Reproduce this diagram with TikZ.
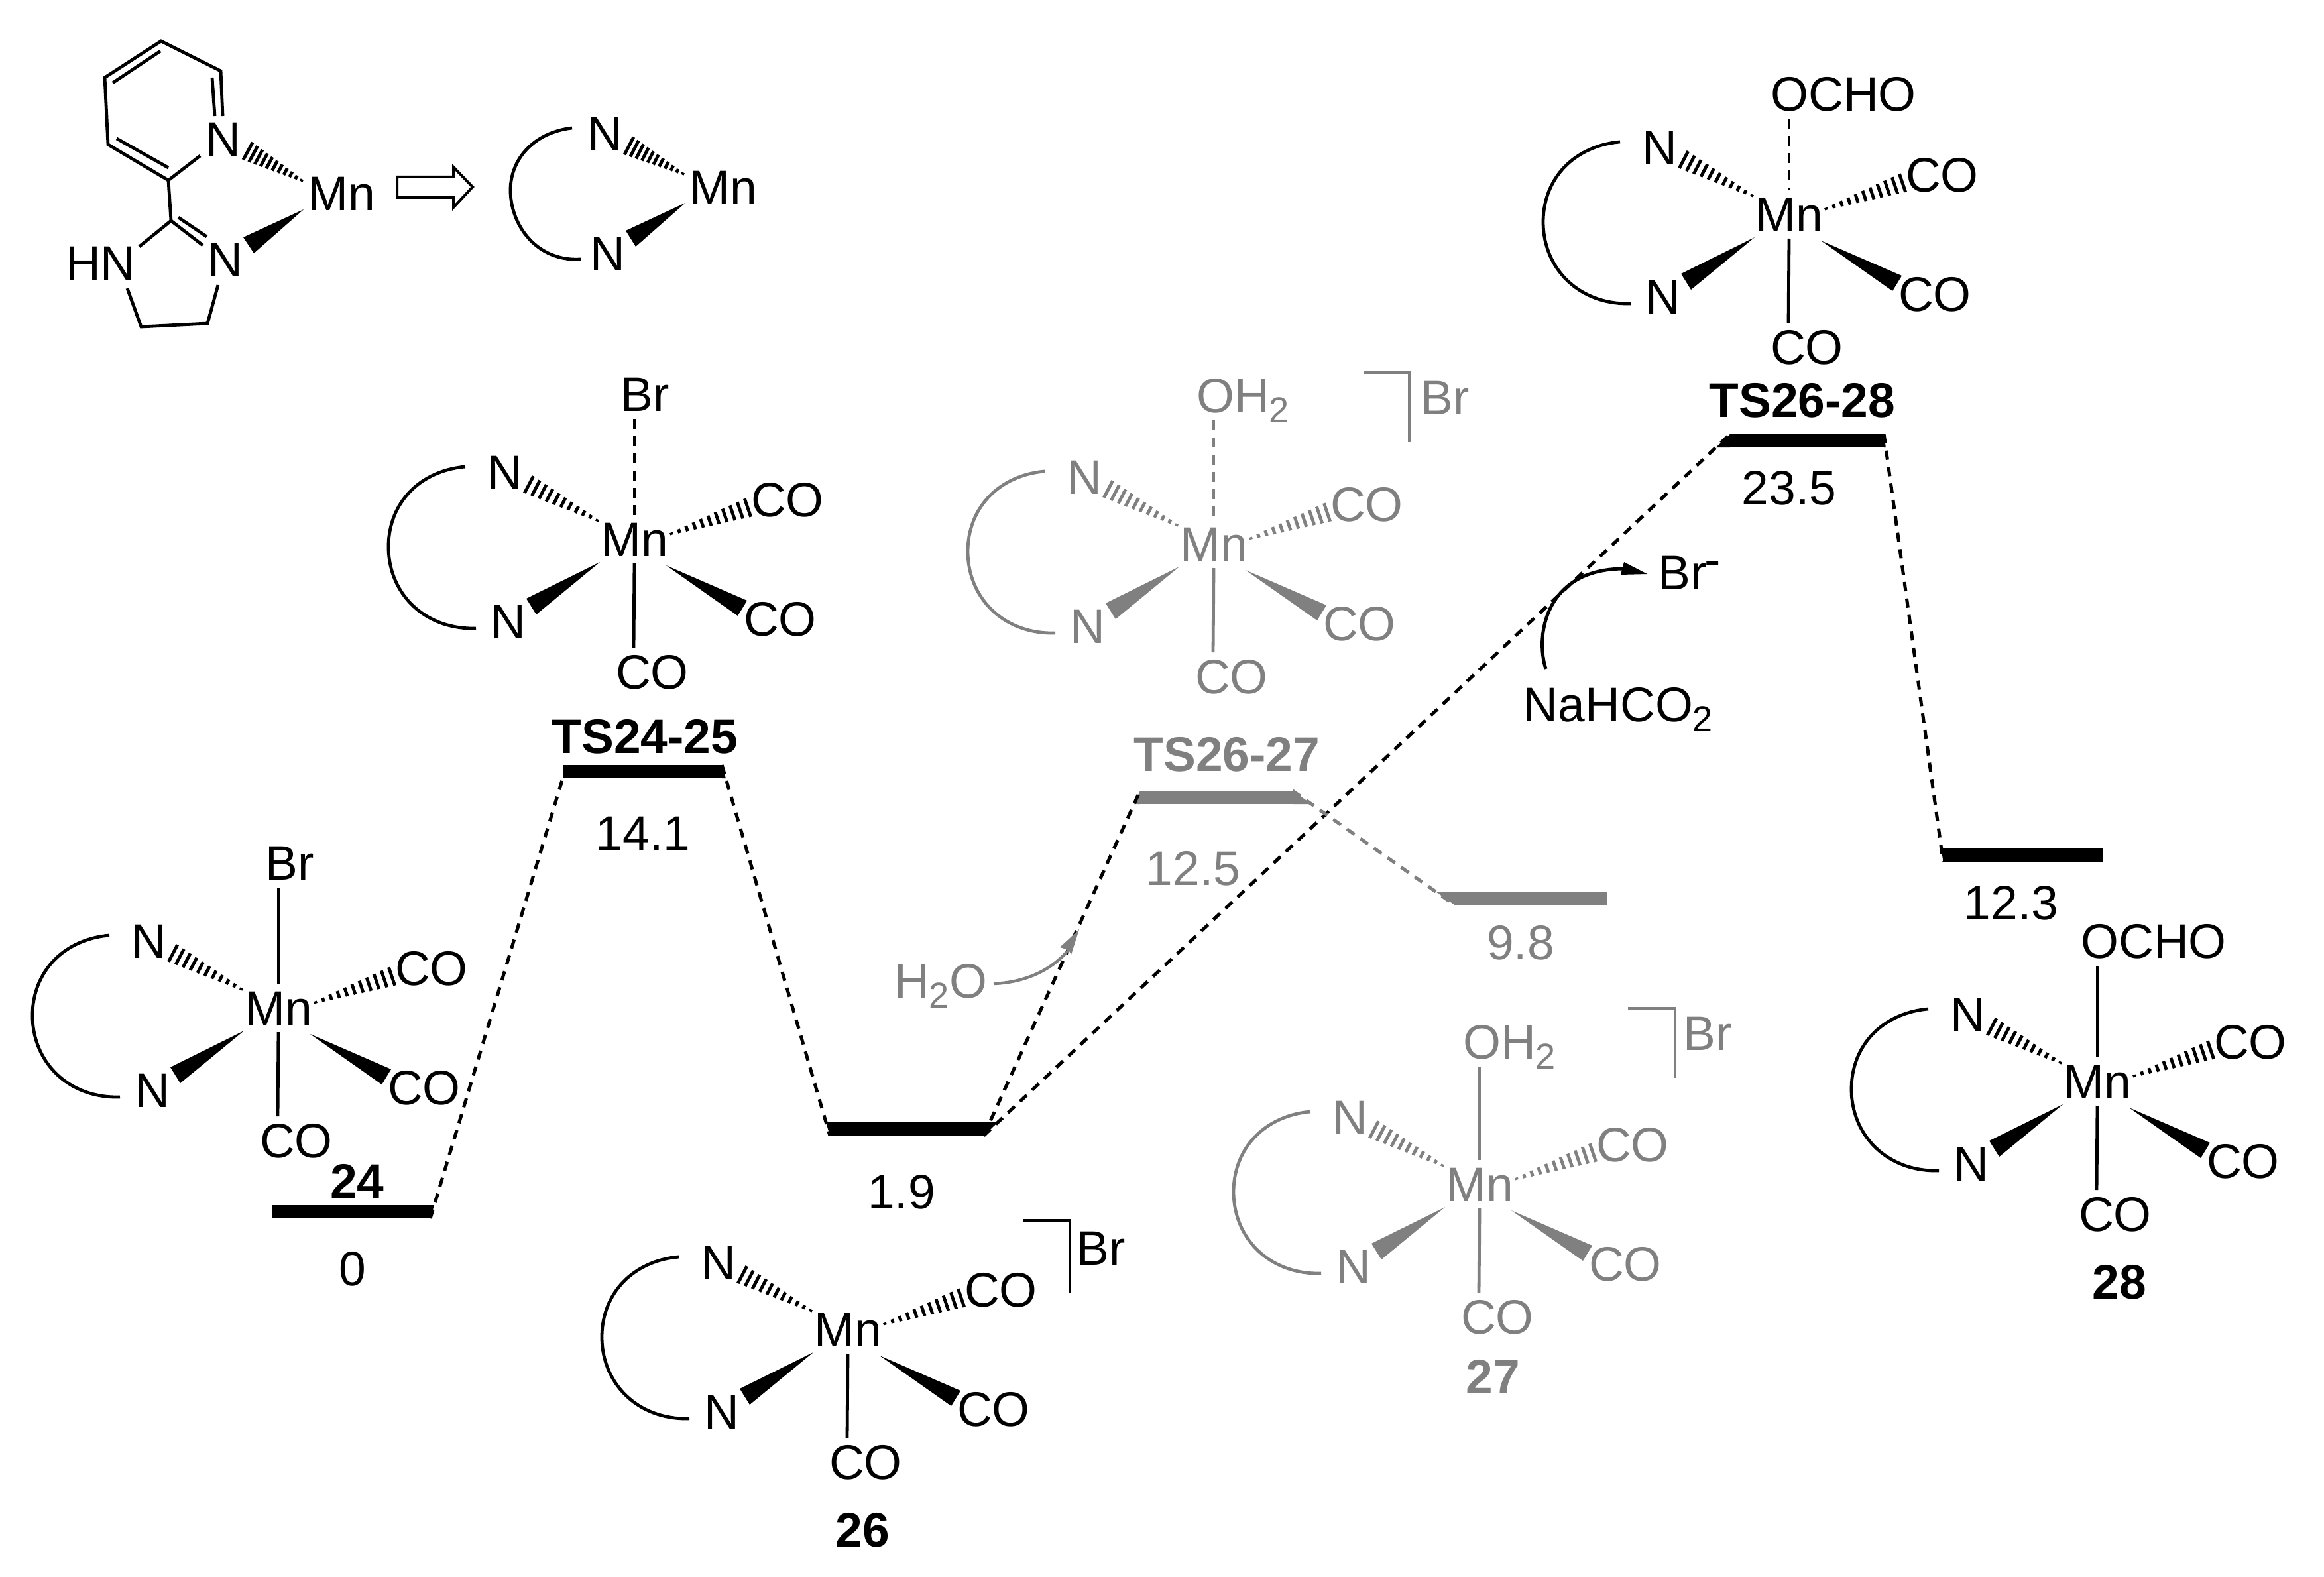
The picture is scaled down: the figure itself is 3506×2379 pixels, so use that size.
\documentclass[tikz,border=0pt]{standalone}
\usepackage{fontspec}
\setmainfont{Liberation Sans}
\usetikzlibrary{calc}
\definecolor{gr}{HTML}{808080}
\newcommand{\subt}[1]{\raisebox{-0.15cm}{\fontsize{15.4}{15.4}\selectfont #1}}
\tikzset{
 bond/.style={line width=0.048cm,line cap=butt},
 dbond/.style={dash pattern=on 0.15cm off 0.11cm},
 lb/.style={inner sep=0pt,outer sep=0pt,anchor=center,text height=0.51cm,text depth=0pt,font=\fontsize{20.8}{26}\selectfont},
 bl/.style={lb,font=\fontsize{20.8}{26}\selectfont\bfseries},
 bar/.style={rectangle,fill,draw=none,inner sep=0pt,outer sep=0pt,minimum height=0.2cm},
 conn/.style={line width=0.05cm,dash pattern=on 0.14cm off 0.11cm},
}
\newcommand{\hashb}[5]{%
 \pgfmathsetmacro{\hdx}{#3-#1}\pgfmathsetmacro{\hdy}{#4-#2}%
 \pgfmathsetmacro{\hln}{veclen(\hdx,\hdy)}%
 \foreach \hk in {0,...,10}{%
  \pgfmathsetmacro{\hp}{\hk/10}%
  \pgfmathsetmacro{\hh}{0.5*#5*(0.12+0.88*\hp)/\hln}%
  \pgfmathsetmacro{\hxx}{#1+\hp*\hdx}\pgfmathsetmacro{\hyy}{#2+\hp*\hdy}%
  \draw[bond] (\hxx-\hdy*\hh,\hyy+\hdx*\hh) -- (\hxx+\hdy*\hh,\hyy-\hdx*\hh);}}
\newcommand{\cbase}[1]{%
 \node[lb] (#1Mn) at (0,0) {Mn};
 \node[lb] (#1Na) at (-195,-101) {N};
 \node[lb] (#1Nb) at (-190,124) {N};
 \node[lb] (#1COa) at (231,-60) {CO};
 \node[lb] (#1COb) at (220,120) {CO};
 \node[lb] (#1COc) at (27,200) {CO};
 \hashb{-56}{-29}{-159}{-83}{29}
 \hashb{56}{-9}{171}{-48}{29}
 \fill (-52,34) -- (-163,89) -- (-148,113) -- cycle;
 \fill (48,39) -- (170,92) -- (156,115) -- cycle;
 \draw[bond] (0,36) -- (-1,163);
 \draw[bond] (-255,-110) .. controls (-323,-104) and (-371,-56) .. (-371,11)
   .. controls (-371,80) and (-318,136) .. (-239,134);
}
\newcommand{\ctop}[5]{% prefix, label, x offset, y offset, line style
 \node[lb] (#1top) at (#3,#4) {#2};
 \coordinate (#1ta) at (0,#4+37);
 \coordinate (#1tb) at (0,-37);
 \draw[bond,#5] (#1ta) -- (#1tb);
}
\newcommand{\linkcap}[4]{% colour, far, near, other far
 \fill[#1] let \p1=(#2),\p2=(#4),\p3=(#3) in (#2) -- (#3) -- ($(#2)!{scalar((\y3-\y1)/(\y2-\y1))}!(#4)$) -- cycle;}
\newcommand{\lnk}[7]{% line col, A cap col, B cap col, Afar, Anear, Bfar, Bnear
 \linkcap{#2}{#4}{#5}{#6}
 \linkcap{#3}{#6}{#7}{#4}
 \draw[conn,#1] (#4) -- (#6);}
\begin{document}
\begin{tikzpicture}[x=0.01cm,y=-0.01cm]
\useasboundingbox (0,0) rectangle (3506,2379);
\fill[white] (0,0) rectangle (3506,2379);

% ligand
\node[lb] (pyN) at (337,210) {N};
\node[lb] (imN) at (340,392) {N};
\node[lb] (imH) at (152,397) {HN};
\node[lb] (mn0) at (515,292) {Mn};
\draw[bond,line join=miter] (336,175) -- (333,107) -- (243,62) -- (158,117) -- (163,218) -- (254,272) -- (302,235);
\draw[bond] (320,117) -- (324,175);
\draw[bond] (170,125) -- (242,77);
\draw[bond] (176,209) -- (254,253);
\draw[bond] (254,272) -- (258,333);
\draw[bond] (210,372) -- (258,333) -- (306,370);
\draw[bond] (269,328) -- (312,357);
\draw[bond] (192,435) -- (213,493) -- (313,488) -- (329,430);
\hashb{455}{272}{374}{228}{30}
\fill (458,316) -- (367,358) -- (383,382) -- cycle;
\draw[line width=0.04cm,fill=white] (599,267) -- (684,267) -- (684,252) -- (713,282) -- (684,313) -- (684,298) -- (599,298) -- cycle;
\node[lb] (Nc) at (913,202) {N};
\node[lb] (Nd) at (917,383) {N};
\node[lb] (mn1) at (1091,283) {Mn};
\hashb{1030}{262}{949}{220}{30}
\fill (1034,306) -- (944,348) -- (959,372) -- cycle;
\draw[bond] (863,193) .. controls (805,200) and (770,240) .. (770,287)
  .. controls (770,340) and (810,395) .. (876,391);

% complexes
\begin{scope}[shift={(420,1521)}]
 \cbase{c24}\ctop{c24}{Br}{17}{-219}{}
\end{scope}
\begin{scope}[shift={(957,814)}]
 \cbase{ca}\ctop{ca}{Br}{16}{-219}{dbond}
\end{scope}
\begin{scope}[shift={(1831,821)},color=gr]
 \cbase{cb}\ctop{cb}{OH\subt{2}}{44}{-224}{dbond}
 \draw[bond] (226,-259) -- (295,-259) -- (295,-154);
 \node[lb] (cbBr) at (349,-221) {Br};
\end{scope}
\begin{scope}[shift={(2699,324)}]
 \cbase{cc}\ctop{cc}{OCHO}{82}{-182}{dbond}
\end{scope}
\begin{scope}[shift={(3164,1632)}]
 \cbase{c28}\ctop{c28}{OCHO}{85}{-212}{}
\end{scope}
\begin{scope}[shift={(2232,1787)},color=gr]
 \cbase{c27}\ctop{c27}{OH\subt{2}}{45}{-215}{}
 \draw[bond] (224,-266) -- (295,-266) -- (295,-161);
 \node[lb] (c27Br) at (344,-228) {Br};
\end{scope}
\begin{scope}[shift={(1279,2006)}]
 \cbase{c26}
 \draw[bond] (264,-165) -- (335,-165) -- (335,-56);
 \node[lb] (c26Br) at (382,-123) {Br};
\end{scope}

% levels
\node[bar,minimum width=2.38cm] (b24) at (530,1828) {};
\node[bar,minimum width=2.40cm] (b25) at (969,1164) {};
\node[bar,minimum width=2.32cm] (b26) at (1368,1703) {};
\node[bar,minimum width=2.30cm,gr] (b2627) at (1835,1203) {};
\node[bar,minimum width=2.29cm,gr] (b27) at (2309.5,1355.5) {};
\node[bar,minimum width=2.32cm] (b2628) at (2726,665) {};
\node[bar,minimum width=2.41cm] (b28) at (3052,1290) {};

\linkcap{black}{b24.south east}{b24.north east}{b25.south west}
\draw[conn] (b24.south east) -- (b25.south west);
\lnk{black}{black}{black}{b25.north east}{b25.south east}{b26.south west}{b26.north west}
\lnk{black}{black}{gr}{b26.south east}{b26.north east}{b2627.north west}{b2627.south west}
\lnk{black}{black}{black}{b26.south east}{b26.north east}{b2628.north west}{b2628.south west}
\lnk{black}{black}{black}{b2628.north east}{b2628.south east}{b28.south west}{b28.north west}
\lnk{gr}{gr}{gr}{b2627.north east}{b2627.south east}{b27.south west}{b27.north west}

% labels
\node[bl] (l24) at (539,1782) {24};
\node[bl] (l25) at (973,1111) {TS24-25};
\node[bl,gr] (l2627) at (1851,1138) {TS26-27};
\node[bl] (l2628) at (2719,604) {TS26-28};
\node[bl,gr] (l27) at (2252,2077) {27};
\node[bl] (l26) at (1301,2308) {26};
\node[bl] (l28) at (3197,1934) {28};
\node[lb] (v24) at (532,1914) {0};
\node[lb] (v25) at (970,1257) {14.1};
\node[lb] (v26) at (1360,1798) {1.9};
\node[lb,gr] (v2627) at (1800,1310) {12.5};
\node[lb,gr] (v27) at (2294,1422) {9.8};
\node[lb] (v2628) at (2699,736) {23.5};
\node[lb] (v28) at (3034,1362) {12.3};

% reagents
\node[lb,gr] (water) at (1419,1480) {H\subt{2}O};
\coordinate (watertail) at (1499,1484);
\coordinate (watertip) at (1628,1402);
\draw[line width=0.045cm,gr] (watertail) .. controls (1545,1482) and (1585,1465) .. (1612,1433);
\fill[gr] (watertip) -- (1599,1429) -- (1612,1433) -- (1616,1440) -- cycle;
\node[lb] (form) at (2441,1063) {NaHCO\subt{2}};
\node[lb] (brm) at (2549,864) {Br\kern-0.03cm\raisebox{0.2cm}{-}};
\coordinate (brtail) at (2332,1009);
\coordinate (brtip) at (2485,866);
\draw[line width=0.05cm] (brtail) .. controls (2316,960) and (2330,858) .. (2450,858);
\fill (brtip) -- (2450,848) -- (2445,867) -- cycle;
\end{tikzpicture}
\end{document}
